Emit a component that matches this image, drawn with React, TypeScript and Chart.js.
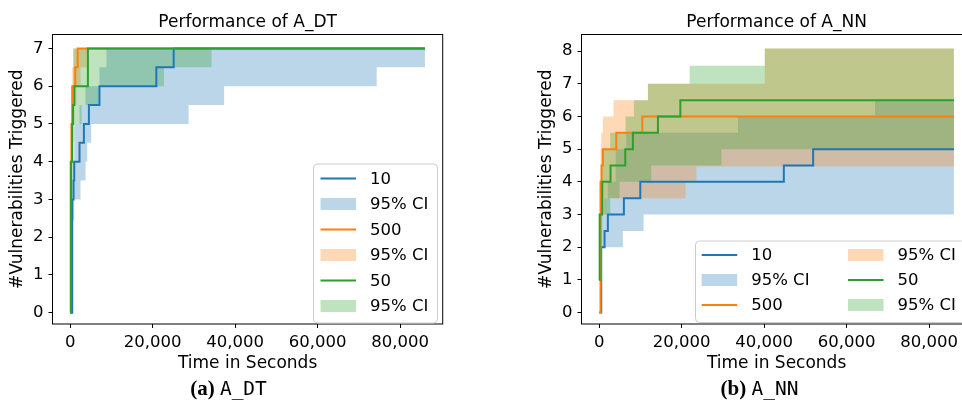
import React, { useEffect, useRef } from "react";
import { Chart, registerables } from "chart.js";
Chart.register(...registerables);

type Pt = [number, number];

// ---------- tick labels / categories ----------
const X_TICKS = [0, 20000, 40000, 60000, 80000];
const DT_Y_TICKS = [0, 1, 2, 3, 4, 5, 6, 7];
const NN_Y_TICKS = [0, 1, 2, 3, 4, 5, 6, 7, 8];
const SERIES_LABELS = ["10", "500", "50"];
const CI_LABEL = "95% CI";

// ---------- A_DT (time in seconds, vulnerabilities) ----------
const dt10Mean: Pt[] = [[0, 0], [484, 3], [800, 3.5], [967, 4], [2250, 4.5], [3310, 5], [4520, 5.5], [7085, 6], [20870, 6.5], [25075, 7], [86000, 7]];
const dt10Low: Pt[] = [[0, 0], [484, 2.45], [967, 3], [2490, 3.5], [3700, 4], [4110, 4.5], [5080, 5], [28700, 5.5], [37310, 6], [74300, 6.5], [86000, 6.5]];
const dt10High: Pt[] = [[0, 0], [484, 4], [967, 5], [2250, 5.5], [3700, 6], [7085, 6.5], [8780, 7], [86000, 7]];

const dt500Mean: Pt[] = [[0, 0], [100, 4], [300, 5], [484, 6], [1210, 6.5], [1810, 7], [86000, 7]];
const dt500Low: Pt[] = [[0, 0], [100, 3], [300, 4], [484, 5], [900, 5.5], [1500, 6], [2500, 6.5], [4040, 7], [86000, 7]];
const dt500High: Pt[] = [[0, 0], [100, 5], [300, 6], [484, 6.5], [850, 7], [86000, 7]];

const dt50Mean: Pt[] = [[0, 0], [200, 4], [484, 5], [700, 5.5], [1000, 6], [4280, 7], [86000, 7]];
const dt50Low: Pt[] = [[0, 0], [200, 3], [484, 4.5], [800, 5], [2730, 5.5], [7085, 6], [22730, 6.5], [34260, 7], [86000, 7]];
const dt50High: Pt[] = [[0, 0], [200, 5], [484, 6], [700, 7], [86000, 7]];

// ---------- A_NN ----------
const nn10Mean: Pt[] = [[0, 0], [485, 2], [1290, 2.5], [2090, 3], [5970, 3.5], [9955, 4], [44750, 4.5], [51860, 5], [86000, 5]];
const nn10Low: Pt[] = [[0, 0], [485, 2], [5730, 2.5], [10755, 3], [86000, 3]];
const nn10High: Pt[] = [[0, 0], [485, 3], [1290, 3.5], [2090, 4], [4000, 5], [6555, 5.5], [33650, 6], [66840, 6.5], [86000, 6.5]];

const nn500Mean: Pt[] = [[0, 0], [316, 4], [560, 4.5], [875, 5], [4130, 5.5], [10440, 6], [86000, 6]];
const nn500Low: Pt[] = [[0, 0], [316, 2], [560, 3], [1500, 3.5], [20950, 4], [23550, 4.47], [86000, 4.47]];
const nn500High: Pt[] = [[0, 0], [316, 5], [485, 5.5], [875, 6], [3470, 6.5], [11800, 7], [40135, 8.08], [86000, 8.08]];

const nn50Mean: Pt[] = [[0, 1], [100, 3], [730, 4], [2740, 4.5], [6310, 5], [8160, 5.5], [14230, 6], [19670, 6.5], [86000, 6.5]];
const nn50Low: Pt[] = [[0, 1], [300, 2], [730, 3], [2670, 3.5], [4930, 4], [12625, 4.5], [29620, 5], [86000, 5]];
const nn50High: Pt[] = [[0, 1], [100, 3], [316, 4], [600, 5], [2670, 5.5], [6385, 6], [8400, 6.5], [11800, 7], [21925, 7.55], [40135, 8.08], [86000, 8.08]];

const COLORS = ["#1f77b4", "#ff7f0e", "#2ca02c"];
const FILLS = ["rgba(31,119,180,0.3)", "rgba(255,127,14,0.3)", "rgba(44,160,44,0.3)"];

const FONT = "'DejaVu Sans', sans-serif";
Chart.defaults.font.family = FONT;
Chart.defaults.color = "#000";

const fmt = (v: number) => String(Math.round(v)).replace(/\B(?=(\d{3})+(?!\d))/g, ",");
const toXY = (a: Pt[]) => a.map(([x, y]) => ({ x, y }));

type Series = { line: Pt[]; lo: Pt[]; hi: Pt[] };

function buildDatasets(series: Series[]) {
  const ds: any[] = [];
  series.forEach((s, i) => {
    ds.push({ label: "lo" + i, data: toXY(s.lo), stepped: "before", borderWidth: 1, borderColor: "rgba(0,0,0,0)", pointRadius: 0, fill: false, order: 5 - i });
    ds.push({ label: "hi" + i, data: toXY(s.hi), stepped: "before", borderWidth: 1, borderColor: "rgba(0,0,0,0)", pointRadius: 0, fill: "-1", backgroundColor: FILLS[i], order: 5 - i });
  });
  series.forEach((s, i) => {
    ds.push({ label: SERIES_LABELS[i], data: toXY(s.line), stepped: "before", borderColor: COLORS[i], borderWidth: 2, pointRadius: 0, fill: false, order: 2 - i });
  });
  return ds;
}

type LegendItem = { kind: "line" | "patch"; color: number; label: string; hx: number; ty: number };
type Decor = { title: string; box: { x: number; y: number; w: number; h: number }; items: LegendItem[]; handleW: number };

function makeDecor(d: Decor) {
  return {
    id: "decor",
    afterDraw(chart: any) {
      const ctx = chart.ctx as CanvasRenderingContext2D;
      const ca = chart.chartArea;
      ctx.save();
      // frame
      ctx.strokeStyle = "#000";
      ctx.lineWidth = 1;
      ctx.strokeRect(ca.left, ca.top, ca.right - ca.left, ca.bottom - ca.top);
      // title
      ctx.fillStyle = "#000";
      ctx.font = `17px ${FONT}`;
      ctx.textAlign = "center";
      ctx.textBaseline = "middle";
      ctx.fillText(d.title, (ca.left + ca.right) / 2, 22.5);
      // legend
      const { x, y, w, h } = d.box;
      const r = 4;
      ctx.beginPath();
      ctx.moveTo(x + r, y);
      ctx.lineTo(x + w - r, y);
      ctx.arcTo(x + w, y, x + w, y + r, r);
      ctx.lineTo(x + w, y + h - r);
      ctx.arcTo(x + w, y + h, x + w - r, y + h, r);
      ctx.lineTo(x + r, y + h);
      ctx.arcTo(x, y + h, x, y + h - r, r);
      ctx.lineTo(x, y + r);
      ctx.arcTo(x, y, x + r, y, r);
      ctx.closePath();
      ctx.fillStyle = "rgba(255,255,255,0.8)";
      ctx.fill();
      ctx.strokeStyle = "#cccccc";
      ctx.stroke();
      ctx.font = `16.5px ${FONT}`;
      ctx.textAlign = "left";
      ctx.textBaseline = "middle";
      d.items.forEach((it) => {
        if (it.kind === "line") {
          ctx.strokeStyle = COLORS[it.color];
          ctx.lineWidth = 2;
          ctx.beginPath();
          ctx.moveTo(it.hx, it.ty);
          ctx.lineTo(it.hx + d.handleW, it.ty);
          ctx.stroke();
        } else {
          ctx.fillStyle = FILLS[it.color];
          ctx.fillRect(it.hx, it.ty - 6, d.handleW, 12);
        }
        ctx.fillStyle = "#000";
        ctx.fillText(it.label, it.hx + d.handleW + 14, it.ty + 1);
      });
      ctx.restore();
    },
  };
}

function makeConfig(series: Series[], yMin: number, yMax: number, yTicks: number[], decor: Decor) {
  return {
    type: "line" as const,
    data: { datasets: buildDatasets(series) },
    options: {
      animation: false as const,
      responsive: false,
      devicePixelRatio: 1,
      layout: { padding: { top: 34.5, right: 27.3, bottom: 0, left: 0 } },
      plugins: { legend: { display: false }, tooltip: { enabled: false }, title: { display: false } },
      scales: {
        x: {
          type: "linear" as const,
          min: -4300,
          max: 90300,
          afterFit: (s: any) => { s.height = 56; },
          afterBuildTicks: (s: any) => { s.ticks = X_TICKS.map((v) => ({ value: v })); },
          ticks: { callback: (v: any) => fmt(Number(v)), font: { size: 16.5 }, color: "#000", padding: 5, maxRotation: 0, autoSkip: false },
          grid: { display: true, drawOnChartArea: false, drawTicks: true, tickLength: 4, color: "#000" },
          border: { display: false },
          title: { display: true, text: "Time in Seconds", font: { size: 17 }, color: "#000", padding: { top: 0, bottom: 6 } },
        },
        y: {
          type: "linear" as const,
          min: yMin,
          max: yMax,
          afterFit: (s: any) => { s.width = 52.5; },
          afterBuildTicks: (s: any) => { s.ticks = yTicks.map((v) => ({ value: v })); },
          ticks: { font: { size: 16.5 }, color: "#000", padding: 5, autoSkip: false },
          grid: { display: true, drawOnChartArea: false, drawTicks: true, tickLength: 4, color: "#000" },
          border: { display: false },
          title: { display: true, text: "#Vulnerabilities Triggered", font: { size: 17 }, color: "#000", padding: { top: 7.8, bottom: 0 } },
        },
      },
    },
    plugins: [makeDecor(decor)],
  };
}

const W = 470;
const H = 380;
const RIGHT_LEFT = 529;

function Panel(props: { left: number; cfg: any }) {
  const ref = useRef<HTMLCanvasElement | null>(null);
  useEffect(() => {
    if (!ref.current) return;
    const chart = new Chart(ref.current, props.cfg);
    return () => chart.destroy();
  }, []);
  return (
    <canvas
      ref={ref}
      width={W}
      height={H}
      style={{ position: "absolute", left: props.left, top: 0, width: W, height: H }}
    />
  );
}

export default function App() {
  const hw = 35.5;
  const dtItems: LegendItem[] = [
    { kind: "line", color: 0, label: SERIES_LABELS[0], hx: 320.5, ty: 178.5 },
    { kind: "patch", color: 0, label: CI_LABEL, hx: 320.5, ty: 204 },
    { kind: "line", color: 1, label: SERIES_LABELS[1], hx: 320.5, ty: 229.5 },
    { kind: "patch", color: 1, label: CI_LABEL, hx: 320.5, ty: 255 },
    { kind: "line", color: 2, label: SERIES_LABELS[2], hx: 320.5, ty: 280.5 },
    { kind: "patch", color: 2, label: CI_LABEL, hx: 320.5, ty: 306 },
  ];
  const o = RIGHT_LEFT;
  const nnItems: LegendItem[] = [
    { kind: "line", color: 0, label: SERIES_LABELS[0], hx: 701.7 - o, ty: 255 },
    { kind: "patch", color: 0, label: CI_LABEL, hx: 701.7 - o, ty: 280 },
    { kind: "line", color: 1, label: SERIES_LABELS[1], hx: 701.7 - o, ty: 305 },
    { kind: "patch", color: 1, label: CI_LABEL, hx: 848 - o, ty: 255 },
    { kind: "line", color: 2, label: SERIES_LABELS[2], hx: 848 - o, ty: 280 },
    { kind: "patch", color: 2, label: CI_LABEL, hx: 848 - o, ty: 305 },
  ];
  const dtCfg = makeConfig(
    [
      { line: dt10Mean, lo: dt10Low, hi: dt10High },
      { line: dt500Mean, lo: dt500Low, hi: dt500High },
      { line: dt50Mean, lo: dt50Low, hi: dt50High },
    ],
    -0.3,
    7.37,
    DT_Y_TICKS,
    { title: "Performance of A_DT", box: { x: 313.5, y: 164, w: 124, h: 159 }, items: dtItems, handleW: hw }
  );
  const nnCfg = makeConfig(
    [
      { line: nn10Mean, lo: nn10Low, hi: nn10High },
      { line: nn500Mean, lo: nn500Low, hi: nn500High },
      { line: nn50Mean, lo: nn50Low, hi: nn50High },
    ],
    -0.35,
    8.51,
    NN_Y_TICKS,
    { title: "Performance of A_NN", box: { x: 695.5 - o, y: 241, w: 270, h: 81.5 }, items: nnItems, handleW: hw }
  );
  const capStyle = (cx: number): React.CSSProperties => ({
    position: "absolute",
    top: 375,
    left: cx - 100,
    width: 200,
    textAlign: "center",
    fontSize: 21,
    lineHeight: "26px",
    color: "#000",
    whiteSpace: "nowrap",
  });
  return (
    <div style={{ position: "absolute", left: 0, top: 0, width: 962, height: 412, overflow: "hidden", background: "#fff" }}>
      <Panel left={0} cfg={dtCfg} />
      <Panel left={RIGHT_LEFT} cfg={nnCfg} />
      <div style={capStyle(228.5)}>
        <span style={{ fontFamily: "'Liberation Serif', serif", fontWeight: "bold" }}>(a)</span>{" "}
        <span style={{ fontFamily: "'DejaVu Sans Mono', monospace", fontSize: 19.5 }}>A_DT</span>
      </div>
      <div style={capStyle(759.5)}>
        <span style={{ fontFamily: "'Liberation Serif', serif", fontWeight: "bold" }}>(b)</span>{" "}
        <span style={{ fontFamily: "'DejaVu Sans Mono', monospace", fontSize: 19.5 }}>A_NN</span>
      </div>
    </div>
  );
}
